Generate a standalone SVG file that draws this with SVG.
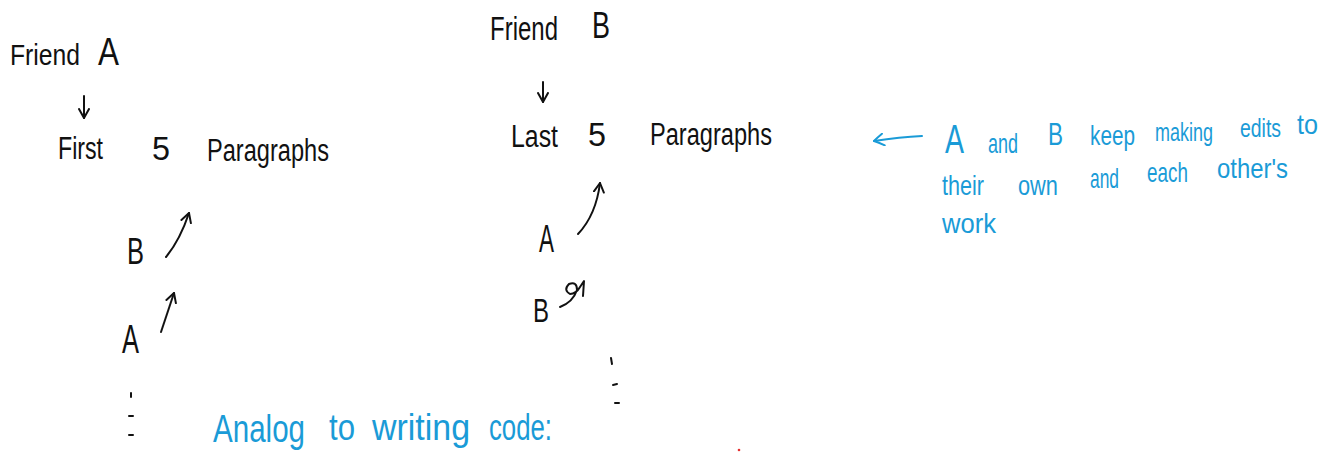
<svg xmlns="http://www.w3.org/2000/svg" width="1337" height="452" viewBox="0 0 1337 452">
<style>
.ink{font-family:"Liberation Sans",Arial,sans-serif;fill:#111}
.blue{font-family:"Liberation Sans",Arial,sans-serif;fill:#1a9bd7}
.ln{fill:none;stroke:#111;stroke-width:2;stroke-linecap:round;stroke-linejoin:round}
.bl{fill:none;stroke:#1a9bd7;stroke-width:2;stroke-linecap:round;stroke-linejoin:round}
</style>
<defs>
<marker id="ah" viewBox="0 0 12 12" refX="10" refY="6" markerWidth="12" markerHeight="12" markerUnits="userSpaceOnUse" orient="auto">
<path d="M1,1 L10,6 L1,11" fill="none" stroke="#111" stroke-width="2" stroke-linecap="round" stroke-linejoin="round"/>
</marker>
<marker id="ahb" viewBox="0 0 14 14" refX="12" refY="7" markerWidth="14" markerHeight="14" markerUnits="userSpaceOnUse" orient="auto">
<path d="M2,1 Q8,5 12,7 Q8,10 3,13" fill="none" stroke="#1a9bd7" stroke-width="2" stroke-linecap="round" stroke-linejoin="round"/>
</marker>
</defs>
<rect width="1337" height="452" fill="#fff"/>

<g id="friend-a">
<text class="ink" font-size="30"><tspan x="10" y="65" textLength="70" lengthAdjust="spacingAndGlyphs">Friend</tspan><tspan x="98" y="65" textLength="21" lengthAdjust="spacingAndGlyphs" font-size="38">A</tspan></text>
</g>
<g id="first-paragraphs">
<text class="ink" font-size="31"><tspan x="58" y="159" textLength="45" lengthAdjust="spacingAndGlyphs">First</tspan><tspan x="152" y="160" textLength="18" lengthAdjust="spacingAndGlyphs" font-size="34">5</tspan><tspan x="207" y="161" textLength="122" lengthAdjust="spacingAndGlyphs">Paragraphs</tspan></text>
</g>
<g id="a-b-label">
<text class="ink" font-size="36" x="127" y="264" textLength="17" lengthAdjust="spacingAndGlyphs">B</text>
</g>
<g id="a-a-label">
<text class="ink" font-size="40" x="122" y="353" textLength="17" lengthAdjust="spacingAndGlyphs">A</text>
</g>

<g id="friend-b">
<text class="ink" font-size="33"><tspan x="490" y="40" textLength="68" lengthAdjust="spacingAndGlyphs">Friend</tspan><tspan x="592" y="38" textLength="18" lengthAdjust="spacingAndGlyphs" font-size="36">B</tspan></text>
</g>
<g id="last-paragraphs">
<text class="ink" font-size="31"><tspan x="511" y="147" textLength="47" lengthAdjust="spacingAndGlyphs">Last</tspan><tspan x="588" y="146" textLength="18" lengthAdjust="spacingAndGlyphs" font-size="34">5</tspan><tspan x="650" y="145" textLength="122" lengthAdjust="spacingAndGlyphs">Paragraphs</tspan></text>
</g>
<g id="b-a-label">
<text class="ink" font-size="38" x="539" y="252" textLength="15" lengthAdjust="spacingAndGlyphs">A</text>
</g>
<g id="b-b-label">
<text class="ink" font-size="34" x="533" y="322" textLength="16" lengthAdjust="spacingAndGlyphs">B</text>
</g>

<g id="note">
<text class="blue" font-size="28">
<tspan x="945" y="153" textLength="19" lengthAdjust="spacingAndGlyphs" font-size="40">A</tspan>
<tspan x="988" y="153" textLength="30" lengthAdjust="spacingAndGlyphs">and</tspan>
<tspan x="1048" y="145" textLength="15" lengthAdjust="spacingAndGlyphs" font-size="32">B</tspan>
<tspan x="1090" y="145" textLength="45" lengthAdjust="spacingAndGlyphs">keep</tspan>
<tspan x="1155" y="141" textLength="58" lengthAdjust="spacingAndGlyphs" font-size="26">making</tspan>
<tspan x="1240" y="137" textLength="41" lengthAdjust="spacingAndGlyphs" font-size="26">edits</tspan>
<tspan x="1297" y="134" textLength="21" lengthAdjust="spacingAndGlyphs">to</tspan>
<tspan x="942" y="195" textLength="42" lengthAdjust="spacingAndGlyphs">their</tspan>
<tspan x="1018" y="195" textLength="40" lengthAdjust="spacingAndGlyphs">own</tspan>
<tspan x="1090" y="188" textLength="29" lengthAdjust="spacingAndGlyphs">and</tspan>
<tspan x="1147" y="182" textLength="41" lengthAdjust="spacingAndGlyphs">each</tspan>
<tspan x="1217" y="178" textLength="71" lengthAdjust="spacingAndGlyphs">other's</tspan>
<tspan x="942" y="233" textLength="54" lengthAdjust="spacingAndGlyphs">work</tspan>
</text>
</g>

<g id="analog">
<text class="blue" font-size="36"><tspan x="213" y="442" textLength="92" lengthAdjust="spacingAndGlyphs" font-size="38">Analog</tspan><tspan x="329" y="440" textLength="26" lengthAdjust="spacingAndGlyphs">to</tspan><tspan x="372" y="440" textLength="98" lengthAdjust="spacingAndGlyphs">writing</tspan><tspan x="489" y="440" textLength="63" lengthAdjust="spacingAndGlyphs">code:</tspan></text>
</g>

<g id="connectors">
<path class="ln" d="M84,96 L84,118" marker-end="url(#ah)"/>
<path class="ln" d="M543,82 L543,102" marker-end="url(#ah)"/>
<path class="ln" d="M166,257 Q180,240 189,213" marker-end="url(#ah)"/>
<path class="ln" d="M161,332 L174,293" marker-end="url(#ah)"/>
<path class="ln" d="M578,234 Q596,215 600,183" marker-end="url(#ah)"/>
<path class="ln" d="M560,307 Q573,302 577,290 Q577,281 569,284 Q563,290 570,294 Q576,294 580,287 L584,281 L583,296"/>
<path class="bl" d="M922,136 Q900,137 874,141" marker-end="url(#ahb)"/>
<path class="ln" d="M131,393 L131,397 M129,416 L133,416 M129,435 L133,435"/>
<path class="ln" d="M611,358 L612,364 M613,385 L617,384 M615,403 L619,403"/>
<circle cx="739" cy="450" r="1.3" fill="#e53030"/>
</g>
</svg>
